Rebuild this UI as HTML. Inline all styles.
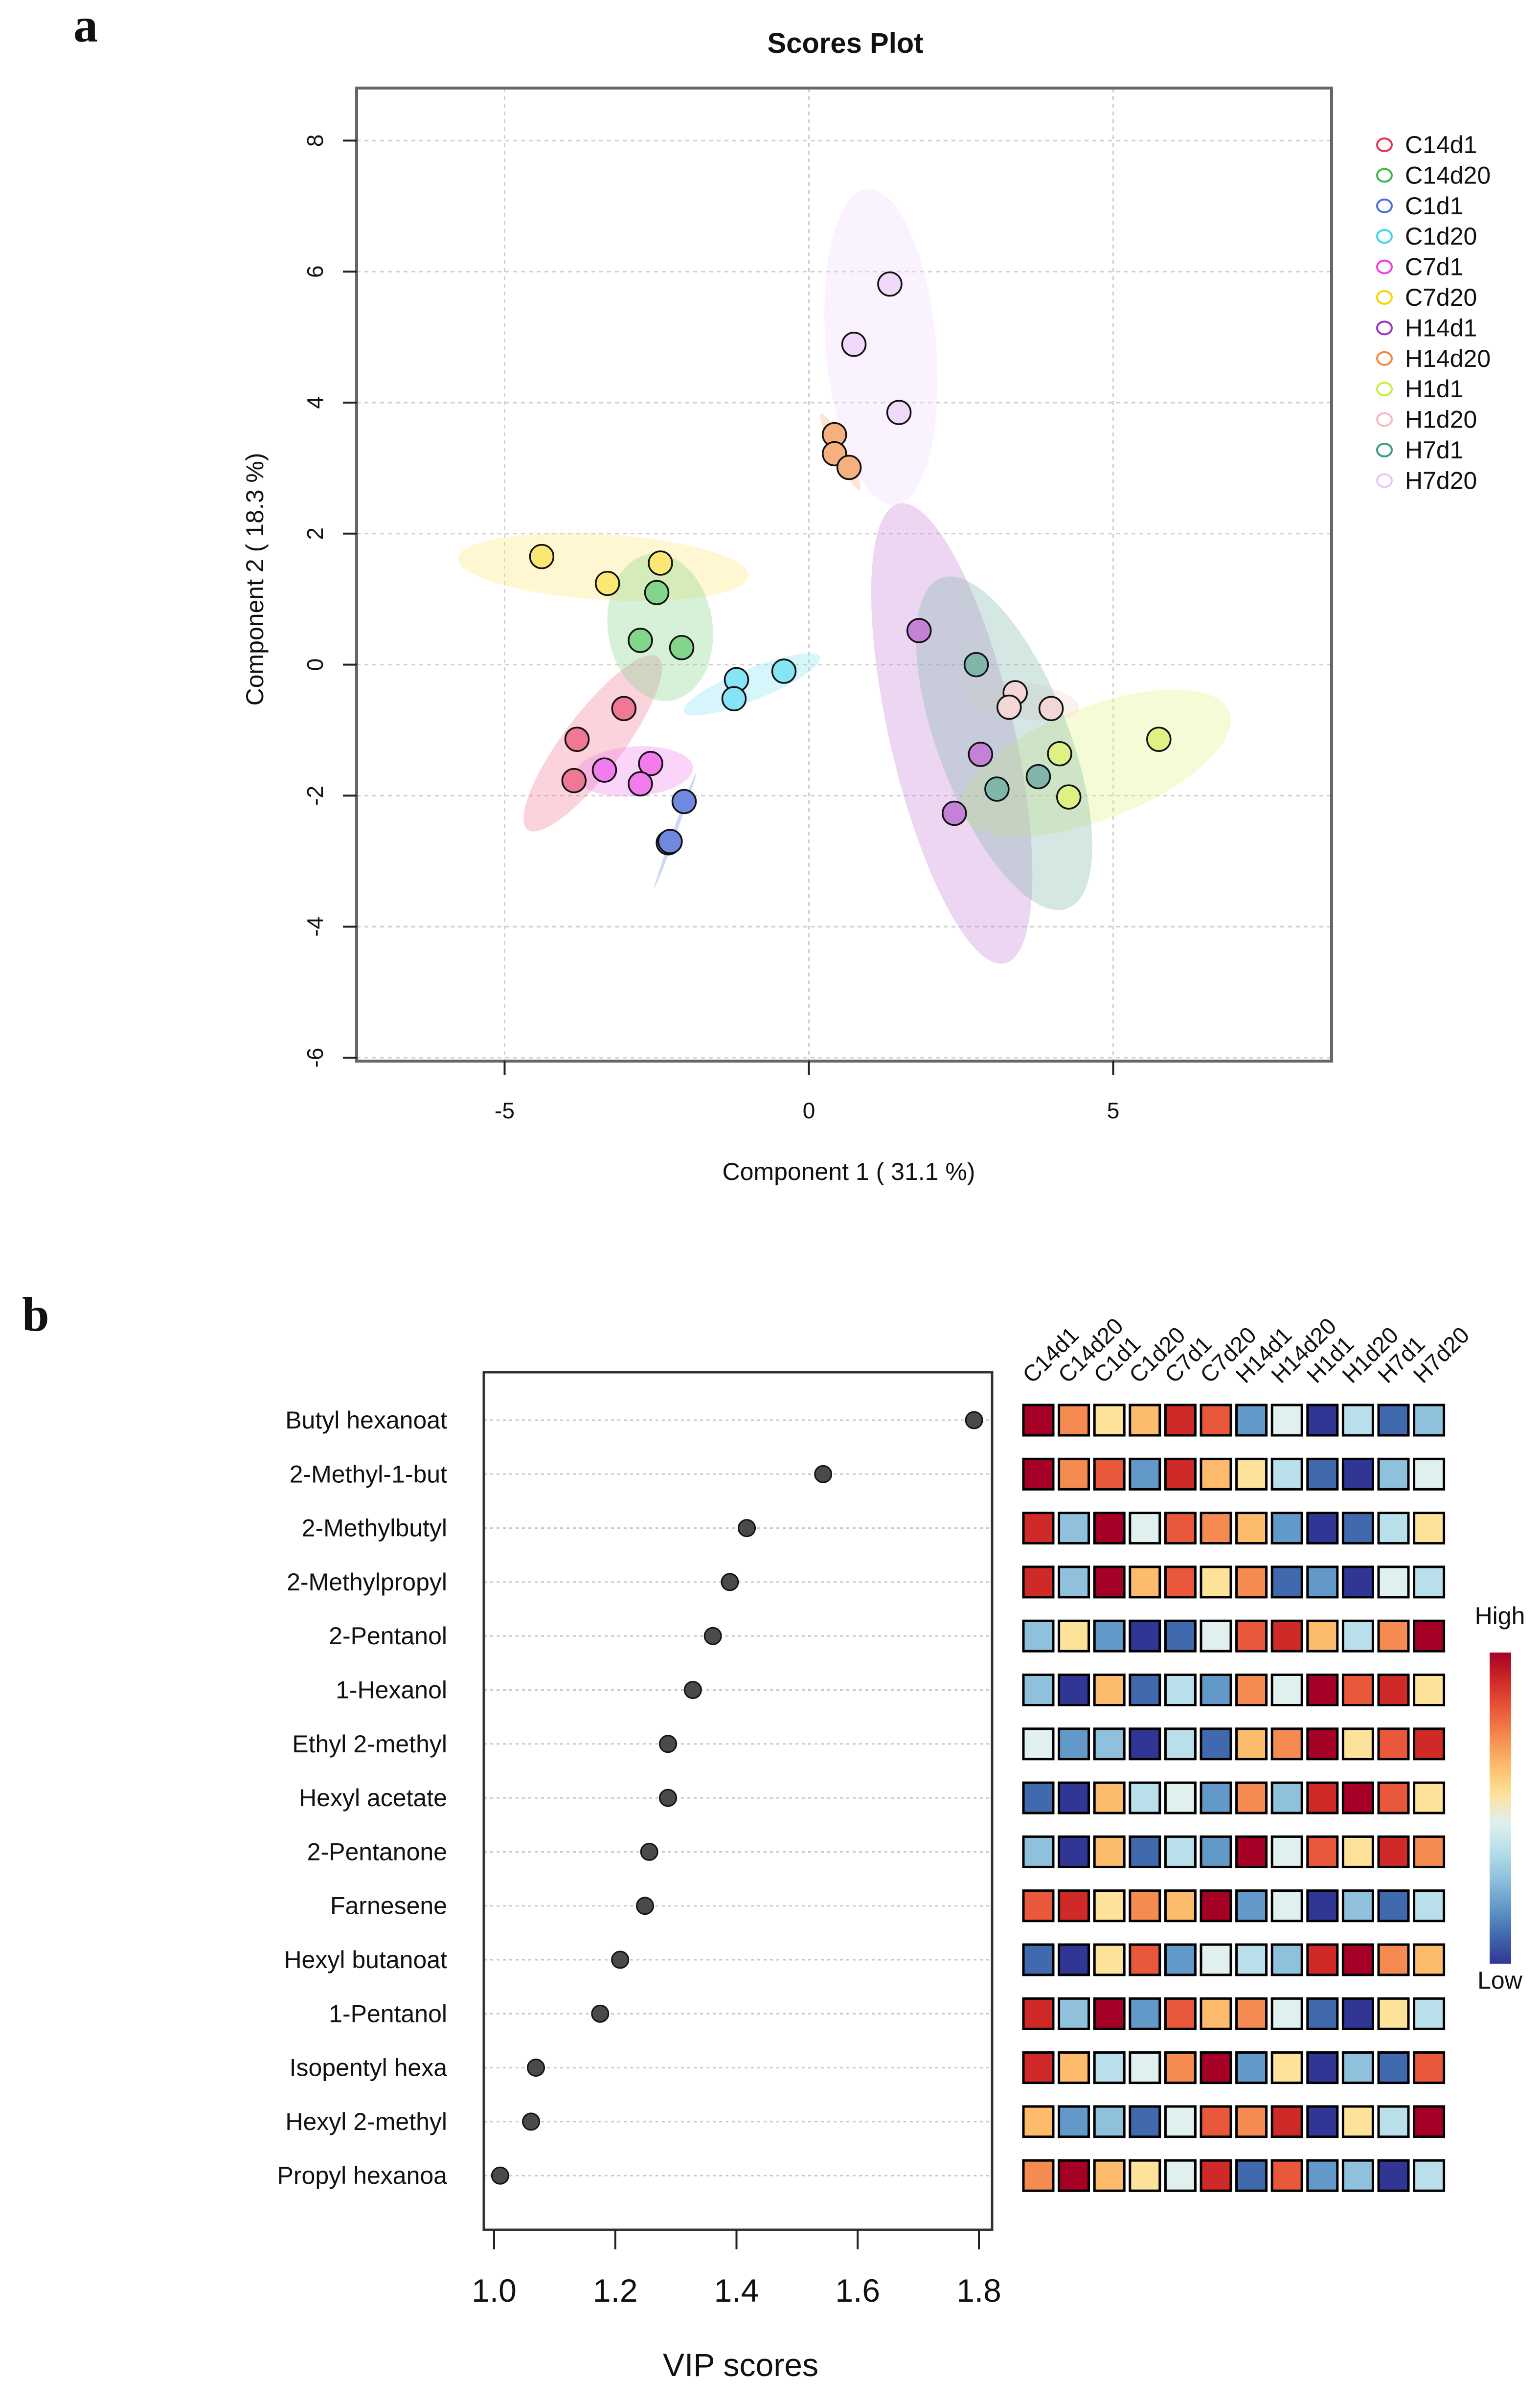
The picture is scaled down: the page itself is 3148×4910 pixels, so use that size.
<!DOCTYPE html>
<html><head><meta charset="utf-8"><style>
html,body{margin:0;padding:0;background:#fff;}
svg{display:block;}
text{font-family:"Liberation Sans",sans-serif;fill:#111;}
</style></head><body>
<svg id="fig" width="3148" height="4910" viewBox="0 0 3148 4910" xmlns="http://www.w3.org/2000/svg">
<rect width="3148" height="4910" fill="#fff"/>
<text x="150" y="85" style="font-family:'Liberation Serif',serif;font-weight:bold;font-size:100px">a</text>
<text x="45" y="2720" style="font-family:'Liberation Serif',serif;font-weight:bold;font-size:100px">b</text>
<text x="1728" y="108" text-anchor="middle" font-weight="bold" font-size="58">Scores Plot</text>
<g id="scores"></g>
<g id="vip"></g>
<g id="heat"></g>
</svg>
<script>
const NS="http://www.w3.org/2000/svg";
function mk(tag,attrs,parent,txt){const e=document.createElementNS(NS,tag);for(const k in attrs)e.setAttribute(k,attrs[k]);if(txt!==undefined)e.textContent=txt;parent.appendChild(e);return e;}

// ---------- Panel a data ----------
const groups=["C14d1","C14d20","C1d1","C1d20","C7d1","C7d20","H14d1","H14d20","H1d1","H1d20","H7d1","H7d20"];
const groupStroke=["#e8325c","#3cb54a","#4a6ee0","#3fd3f5","#ee3ee6","#f5d800","#9a35c0","#f5873a","#c6ee3c","#f7b8c0","#3e9a88","#e8c6fa"];
const groupFill=["#ef7894","#82d58a","#7088e0","#86e5f4","#f27cec","#fbe874","#c482d6","#f6b080","#ddf283","#f3d6d6","#7fb6a9","#f1d9fb"];
const scoreX=[[-3.04,-3.81,-3.86],[-2.50,-2.77,-2.09],[-2.05,-2.31,-2.28],[-1.19,-1.23,-0.41],[-3.36,-2.60,-2.77],[-4.39,-3.31,-2.44],[1.81,2.82,2.39],[0.42,0.42,0.66],[4.12,4.27,5.75],[3.39,3.29,3.98],[2.75,3.09,3.77],[1.33,0.74,1.48]];
const scoreY=[[-0.67,-1.14,-1.77],[1.10,0.37,0.26],[-2.09,-2.72,-2.70],[-0.23,-0.52,-0.10],[-1.61,-1.51,-1.82],[1.65,1.24,1.55],[0.52,-1.37,-2.27],[3.51,3.22,3.01],[-1.36,-2.02,-1.14],[-0.43,-0.65,-0.67],[0.0,-1.90,-1.71],[5.81,4.89,3.85]];
const xTicks=[-5,0,5];
const yTicks=[8,6,4,2,0,-2,-4,-6];

// ---------- Panel b data ----------
const compounds=["Butyl hexanoat","2-Methyl-1-but","2-Methylbutyl","2-Methylpropyl","2-Pentanol","1-Hexanol","Ethyl 2-methyl","Hexyl acetate","2-Pentanone","Farnesene","Hexyl butanoat","1-Pentanol","Isopentyl hexa","Hexyl 2-methyl","Propyl hexanoa"];
const vipScores=[1.792,1.543,1.417,1.389,1.361,1.328,1.287,1.287,1.256,1.249,1.208,1.175,1.069,1.061,1.010];
const vipTicks=[1.0,1.2,1.4,1.6,1.8];
const heatLevels=[
[12,9,7,8,11,10,3,6,1,5,2,4],
[12,9,10,3,11,8,7,5,2,1,4,6],
[11,4,12,6,10,9,8,3,1,2,5,7],
[11,4,12,8,10,7,9,2,3,1,6,5],
[4,7,3,1,2,6,10,11,8,5,9,12],
[4,1,8,2,5,3,9,6,12,10,11,7],
[6,3,4,1,5,2,8,9,12,7,10,11],
[2,1,8,5,6,3,9,4,11,12,10,7],
[4,1,8,2,5,3,12,6,10,7,11,9],
[10,11,7,9,8,12,3,6,1,4,2,5],
[2,1,7,10,3,6,5,4,11,12,9,8],
[11,4,12,3,10,8,9,6,2,1,7,5],
[11,8,5,6,9,12,3,7,1,4,2,10],
[8,3,4,2,6,10,9,11,1,7,5,12],
[9,12,8,7,6,11,2,10,3,4,1,5]];
const palette=["#313695","#4169ae","#6399c8","#8fc0dc","#b8dfea","#e0f0ee","#fde29a","#fdbb6c","#f58b50","#e9583a","#cf2a27","#a50026"];

// ---------- draw scores ----------
const S=document.getElementById('scores');
const L=729,R=2722,T=180,B=2169;
const sx=v=>1653.5+v*124.4, sy=v=>1358.6-v*133.9;
for(const t of xTicks){const g=mk('line',{x1:sx(t),x2:sx(t),y1:T,y2:B,stroke:'#cfcfcf','stroke-width':3,'stroke-dasharray':'8 8'},S);

}
for(const t of yTicks){const g=mk('line',{x1:L,x2:R,y1:sy(t),y2:sy(t),stroke:'#cfcfcf','stroke-width':3,'stroke-dasharray':'8 8'},S);

}
const ell=mk('g',{transform:'translate(700,160) scale(1.3393)'},S);


const ellSpec=[[0,382,1015,165,45,-53],[5,398,746,222,50,3.5],[1,485,838,80,113,-8],[2,508,1148,93,3,-70],[3,625,925,112,24,-22],[4,445,1058,90,38,-4],[6,930,1000,360,95,77],[7,760,570,65,10,63],[8,1150,1045,218,86,-21],[9,1040,950,85,28,8],[10,1010,1015,270,100,69],[11,822,410,242,84,85]];
for(const e of ellSpec){const el=mk('ellipse',{cx:0,cy:0,rx:e[3],ry:e[4],fill:groupFill[e[0]],'fill-opacity':0.33,transform:`translate(${e[1]},${e[2]}) rotate(${e[5]})`},ell);

}
groups.forEach((g,i)=>{scoreX[i].forEach((xv,j)=>{const c=mk('circle',{cx:sx(xv),cy:sy(scoreY[i][j]),r:24,fill:groupFill[i],stroke:'#111','stroke-width':3.5},S);

});});
const bx=mk('rect',{x:L,y:T,width:R-L,height:B-T,fill:'none',stroke:'#666','stroke-width':6},S);


for(const t of xTicks){const l=mk('line',{x1:sx(t),x2:sx(t),y1:B,y2:B+28,stroke:'#222','stroke-width':4},S);


const tx=mk('text',{x:sx(t),y:2286,'text-anchor':'middle','font-size':46},S,String(t));

}
for(const t of yTicks){const l=mk('line',{x1:L-28,x2:L,y1:sy(t),y2:sy(t),stroke:'#222','stroke-width':4},S);


const tx=mk('text',{x:660,y:sy(t),'text-anchor':'middle','font-size':46,transform:`rotate(-90 660 ${sy(t)})`},S,String(t));

}
const xt=mk('text',{x:1735,y:2412,'text-anchor':'middle','font-size':50},S,'Component 1 ( 31.1 %)');


const yt=mk('text',{x:538,y:1184,'text-anchor':'middle','font-size':50,transform:'rotate(-90 538 1184)'},S,'Component 2 ( 18.3 %)');


groups.forEach((g,i)=>{const y=296+i*62.4;
const c=mk('ellipse',{cx:2830,cy:y,rx:15,ry:13,fill:'none',stroke:groupStroke[i],'stroke-width':4},S);


const t=mk('text',{x:2872,y:y+17,'font-size':50},S,g);

});

// ---------- VIP ----------
const V=document.getElementById('vip');
const VL=989,VR=2028,VT=2805,VB=4558;
const vx=v=>1010+(v-1.0)*1238.75, ry=i=>2903+i*110.3;
compounds.forEach((c,i)=>{const g=mk('line',{x1:VL,x2:VR,y1:ry(i),y2:ry(i),stroke:'#c8c8c8','stroke-width':3,'stroke-dasharray':'6 7'},V);


const t=mk('text',{x:914,y:ry(i)+17,'text-anchor':'end','font-size':50},V,c);


const d=mk('circle',{cx:vx(vipScores[i]),cy:ry(i),r:17,fill:'#4a4a4a',stroke:'#111','stroke-width':3},V);

});
const vb=mk('rect',{x:VL,y:VT,width:VR-VL,height:VB-VT,fill:'none',stroke:'#333','stroke-width':5},V);


vipTicks.forEach(t=>{const l=mk('line',{x1:vx(t),x2:vx(t),y1:VB,y2:VB+40,stroke:'#222','stroke-width':4},V);


const tx=mk('text',{x:vx(t),y:4705,'text-anchor':'middle','font-size':66},V,t.toFixed(1));

});
const vt=mk('text',{x:1514,y:4857,'text-anchor':'middle','font-size':66},V,'VIP scores');



// ---------- heatmap ----------
const H=document.getElementById('heat');
const hx=j=>2092+j*72.6;
heatLevels.forEach((row,i)=>{row.forEach((lv,j)=>{const r=mk('rect',{x:hx(j),y:ry(i)-31,width:61,height:62,fill:palette[lv-1],stroke:'#000','stroke-width':5},H);

});});
groups.forEach((g,j)=>{const x=hx(j)+18,y=2830;
const t=mk('text',{x:x,y:y,'font-size':47,transform:`rotate(-45 ${x} ${y})`},H,g);

});
const defs=mk('defs',{},H);
const lg=mk('linearGradient',{id:'key',x1:0,y1:1,x2:0,y2:0},defs);
palette.forEach((c,k)=>mk('stop',{offset:(k/(palette.length-1)),'stop-color':c},lg));
const key=mk('rect',{x:3045,y:3378,width:44,height:636,fill:'url(#key)'},H);


const hi=mk('text',{x:3066,y:3320,'text-anchor':'middle','font-size':50},H,'High');


const lo=mk('text',{x:3066,y:4065,'text-anchor':'middle','font-size':50},H,'Low');


</script>
</body></html>
